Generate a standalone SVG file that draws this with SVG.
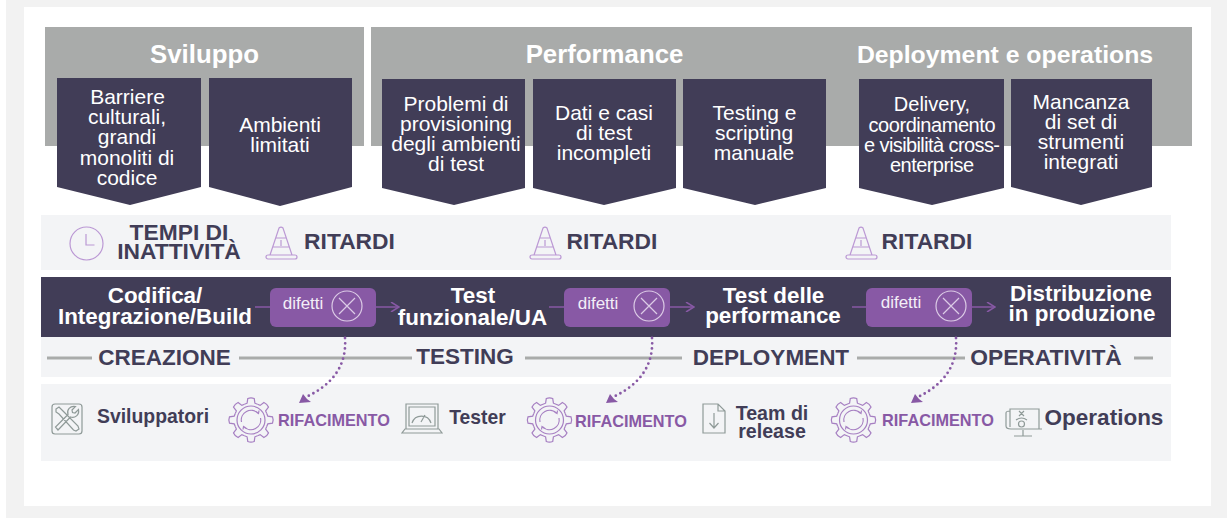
<svg xmlns="http://www.w3.org/2000/svg" xmlns:xlink="http://www.w3.org/1999/xlink" width="1232" height="518" viewBox="0 0 1232 518">
<style>
text{font-family:"Liberation Sans",Arial,sans-serif;text-anchor:middle}
.head{font-size:25.8px;font-weight:700;fill:#fff}
.chev{fill:#413d57}
.ct{font-size:21px;fill:#fff}
.band{fill:#f3f4f6}
.dark{font-weight:700;fill:#413d57}
.proc{font-size:22.400px;font-weight:700;fill:#fff}
.pill{fill:#8859a5}
.dif{font-size:17px;fill:#f3eef7}
.line{stroke:#a9abaa;stroke-width:3;fill:none}
.flow{stroke:#8859a5;stroke-width:1.5;fill:none}
.dot{stroke:#8859a5;stroke-width:2.800;stroke-linecap:round;stroke-dasharray:0 5.200;fill:none}
.rif{font-size:16.300px;font-weight:700;fill:#8859a5}
.ic{fill:none;stroke:#bb98d4;stroke-width:1.200}
.gear{fill:none;stroke:#a67fc2;stroke-width:1.200}
.gi{fill:none;stroke:#8f9a98;stroke-width:1.200}
.xc{fill:none;stroke:#dccbe6;stroke-width:1.200}
</style>
<defs>
<path id="tooth" class="gear" d="M15.700-6.500 16.800-3.900 21.500-3.200Q22.800 0 21.500 3.200L16.800 3.900 15.700 6.500"/>
<g id="gear"><use xlink:href="#tooth" href="#tooth"/><use xlink:href="#tooth" href="#tooth" transform="rotate(45)"/><use xlink:href="#tooth" href="#tooth" transform="rotate(90)"/><use xlink:href="#tooth" href="#tooth" transform="rotate(135)"/><use xlink:href="#tooth" href="#tooth" transform="rotate(180)"/><use xlink:href="#tooth" href="#tooth" transform="rotate(225)"/><use xlink:href="#tooth" href="#tooth" transform="rotate(270)"/><use xlink:href="#tooth" href="#tooth" transform="rotate(315)"/><circle class="gear" r="14"/><path class="gear" d="M-9.500 2A9.700 9.700 0 0 1 7-6.700M9.500-2A9.700 9.700 0 0 1-7 6.700M5-8.500 7.500-6.500 8-9.500M-5 8.500-7.500 6.500-8 9.500"/></g>
<g id="cone"><path class="ic" d="M4 28 13 1Q15-1 17 1L26 28M2 28H29A2 2 0 0 1 29 32H2A2 2 0 0 1 2 28ZM9.500 11H20.500M6.500 20H23.500M15 13V19"/></g>
<g id="x"><circle class="xc" r="15"/><path class="xc" d="M-8-8 8 8M8-8-8 8"/></g>
<marker id="open" viewBox="0 0 10 10" refX="9" refY="5" markerWidth="10" markerHeight="10" markerUnits="userSpaceOnUse" orient="auto"><path d="M1 0 9 5 1 10" fill="none" stroke="#8859a5" stroke-width="1.500"/></marker>
</defs>
<rect width="1232" height="518" fill="#fff"/>
<rect id="frame" x="6" y="0" width="1221" height="518" fill="#f2f2f2"/>
<rect x="24" y="7" width="1187" height="499" fill="#fff"/>

<g id="headers">
<rect x="45" y="27" width="319" height="119" fill="#a9abaa"/>
<rect x="371" y="27" width="821" height="119" fill="#a9abaa"/>
<text class="head" x="204.500" y="63">Sviluppo</text>
<text class="head" x="604.500" y="63">Performance</text>
<text class="head" x="1005" y="63" style="font-size:24.800px">Deployment e operations</text>
</g>

<g id="n-barriere"><path class="chev" d="M57 78H201V187L130 205 57 187Z"/><text class="ct" x="127.500" y="104">Barriere</text><text class="ct" x="127" y="124">culturali,</text><text class="ct" x="127" y="144">grandi</text><text class="ct" x="127" y="165">monoliti di</text><text class="ct" x="127" y="185">codice</text></g>
<g id="n-ambienti"><path class="chev" d="M209 78H352V187L280 206 209 187Z"/><text class="ct" x="280" y="132">Ambienti</text><text class="ct" x="280" y="152">limitati</text></g>
<g id="n-provisioning"><path class="chev" d="M382 79H525V188L454 205 382 188Z"/><text class="ct" x="456" y="111">Problemi di</text><text class="ct" x="456" y="131">provisioning</text><text class="ct" x="456" y="151">degli ambienti</text><text class="ct" x="456" y="171">di test</text></g>
<g id="n-dati"><path class="chev" d="M533 79H676V188L604 205 533 188Z"/><text class="ct" x="604" y="120">Dati e casi</text><text class="ct" x="604" y="140">di test</text><text class="ct" x="604" y="160">incompleti</text></g>
<g id="n-testing"><path class="chev" d="M683 79H826V188L755 205 683 188Z"/><text class="ct" x="754.500" y="120">Testing e</text><text class="ct" x="754" y="140">scripting</text><text class="ct" x="754" y="160">manuale</text></g>
<g id="n-delivery"><path class="chev" d="M859 79H1004V188L932 205 859 188Z"/><text class="ct" x="932" y="111" style="font-size:20px">Delivery,</text><text class="ct" x="932" y="132" textLength="127" style="font-size:20px">coordinamento</text><text class="ct" x="932" y="152" textLength="136" style="font-size:20px">e visibilità cross-</text><text class="ct" x="932" y="172" textLength="84" style="font-size:20px">enterprise</text></g>
<g id="n-mancanza"><path class="chev" d="M1011 79H1152V187L1081 205 1011 187Z"/><text class="ct" x="1081" y="109">Mancanza</text><text class="ct" x="1081" y="129">di set di</text><text class="ct" x="1081" y="149">strumenti</text><text class="ct" x="1081" y="169">integrati</text></g>

<g id="n-ritardi-band">
<rect class="band" x="41" y="215" width="1130" height="55"/>
<circle class="ic" cx="86.500" cy="243.500" r="16.500"/><path class="ic" d="M86 234V245H94.500"/>
<text class="dark" x="179" y="240" font-size="22.800">TEMPI DI</text><text class="dark" x="179" y="259" font-size="22.800">INATTIVITÀ</text>
<use xlink:href="#cone" href="#cone" x="266" y="227"/><text class="dark" x="349.500" y="249" font-size="22.800">RITARDI</text>
<use xlink:href="#cone" href="#cone" x="530" y="227"/><text class="dark" x="612" y="249" font-size="22.800">RITARDI</text>
<use xlink:href="#cone" href="#cone" x="846" y="227"/><text class="dark" x="927" y="249" font-size="22.800">RITARDI</text>
</g>

<g id="n-process">
<rect class="chev" x="41" y="277" width="1130" height="60"/>
<text class="proc" x="155" y="303">Codifica/</text><text class="proc" x="155" y="324">Integrazione/Build</text>
<text class="proc" x="473" y="303">Test</text><text class="proc" x="472.500" y="325">funzionale/UA</text>
<text class="proc" x="773.500" y="303">Test delle</text><text class="proc" x="773" y="323">performance</text>
<text class="proc" x="1081" y="301">Distribuzione</text><text class="proc" x="1082" y="321">in produzione</text>
</g>

<g id="n-phases">
<rect class="band" x="41" y="337" width="1130" height="40"/>
<text class="dark" x="164.500" y="365" font-size="22.500">CREAZIONE</text>
<text class="dark" x="465" y="364" font-size="22.500">TESTING</text>
<text class="dark" x="771" y="365" font-size="22.500">DEPLOYMENT</text>
<text class="dark" x="1046" y="365" font-size="22.800">OPERATIVITÀ</text>
<path class="line" d="M47 358H92M239 358H412M525 358H682M857 358H965M1134 358H1153"/>
</g>

<g id="n-roles">
<rect class="band" x="41" y="384" width="1130" height="77"/>
<g id="n-sviluppatori"><rect class="gi" x="52" y="404" width="30" height="30" rx="3"/><path class="gi" d="M58 430 55.500 427 68 414.500C66.500 410 70 405.500 75.500 406.500L72 410 72.500 412.500 75 413 78.500 409.500C79.500 415 75 418.500 70.500 417ZM56 409 59 407 63 411 78 426 79 429 76 431 73.500 430 59 414 56 412Z"/><text class="dark" x="153" y="423" font-size="19.400">Sviluppatori</text></g>
<g id="n-tester"><path class="gi" d="M406 404H438V429H406ZM409 407H435V426H409ZM405 429H439L442 433H402ZM412 423A10 10 0 0 1 431 423M421 422 425 415"/><text class="dark" x="477.500" y="424" font-size="19.300">Tester</text></g>
<g id="n-release"><path class="gi" d="M703 404H718L725 411V433H703ZM718 404V411H725M714 413V427M709.500 423 714 428 718.500 423"/><text class="dark" x="772" y="420" font-size="19.600">Team di</text><text class="dark" x="772" y="438" font-size="19.600">release</text></g>
<g id="n-operations"><path class="gi" d="M1010 416V409H1039V429H1011Q1006 429 1006 426V413Q1006 411 1010 411M1010 427V413M1039 429H1042M1023 430V436M1014 436H1032M1019 411 1024 416M1024 411 1019 416M1016 420Q1021.500 416 1027 420"/><circle class="gi" cx="1021.500" cy="424" r="3"/><text class="dark" x="1104" y="425" font-size="22.500">Operations</text></g>
<g id="n-rif1"><use xlink:href="#gear" href="#gear" x="251" y="420"/><text class="rif" x="334" y="426">RIFACIMENTO</text></g>
<g id="n-rif2"><use xlink:href="#gear" href="#gear" x="549.500" y="420"/><text class="rif" x="631" y="427">RIFACIMENTO</text></g>
<g id="n-rif3"><use xlink:href="#gear" href="#gear" x="853.500" y="420"/><text class="rif" x="938" y="426">RIFACIMENTO</text></g>
</g>

<g id="connectors">
<path class="flow" d="M255 307H270"/><path class="flow" marker-end="url(#open)" d="M376 307H399"/>
<path class="flow" d="M549 307H565"/><path class="flow" marker-end="url(#open)" d="M670 307H694"/>
<path class="flow" d="M852 307H866"/><path class="flow" marker-end="url(#open)" d="M972 307H995"/>
<path class="dot" d="M345 338C347 366 332 385 306 397"/><path fill="#8859a5" d="M299 403 303 394 307 399 311 402Z"/>
<path class="dot" d="M652 338C654 366 639 385 613 397"/><path fill="#8859a5" d="M606 403 610 394 614 399 618 402Z"/>
<path class="dot" d="M956 338C958 366 943 385 918 397"/><path fill="#8859a5" d="M911 403 915 394 919 399 923 402Z"/>
</g>

<g id="n-difetti1"><rect class="pill" x="270" y="288" width="106" height="39" rx="6"/><text class="dif" x="303" y="309">difetti</text><use xlink:href="#x" href="#x" x="347" y="306"/></g>
<g id="n-difetti2"><rect class="pill" x="564" y="288" width="106" height="39" rx="6"/><text class="dif" x="598" y="309">difetti</text><use xlink:href="#x" href="#x" x="649" y="306"/></g>
<g id="n-difetti3"><rect class="pill" x="866" y="288" width="106" height="39" rx="6"/><text class="dif" x="901" y="308">difetti</text><use xlink:href="#x" href="#x" x="951" y="306"/></g>
</svg>
